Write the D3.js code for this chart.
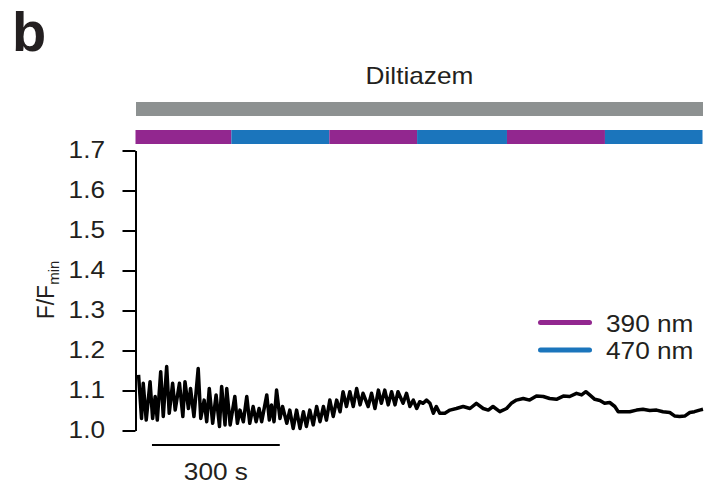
<!DOCTYPE html>
<html>
<head>
<meta charset="utf-8">
<script src="https://cdn.jsdelivr.net/npm/d3@7"></script>
<style>
    body { margin: 0; background: #fff; }
    text { font-family: "Liberation Sans", Arial, sans-serif; fill: #231f20; }
</style>
</head>
<body>
<div id="chart"></div>
<script>
// trace data (time in s, F/Fmin)
var times = [6, 13, 17, 24, 33, 39, 45, 50, 58, 64, 72, 78, 86, 92, 102, 110, 115, 123, 128, 136,
    146, 152, 160, 166, 172, 180, 188, 196, 201, 209, 213, 221, 232, 238, 244, 252, 260, 267, 275, 282,
    289, 295, 307, 313, 318, 324, 330, 338, 344, 354, 361, 369, 377, 385, 393, 400, 408, 416, 424, 432,
    440, 447, 455, 463, 471, 479, 486, 494, 502, 510, 518, 526, 533, 545, 553, 561, 569, 576, 584, 592,
    600, 608, 615,
    627, 635, 643, 651, 659, 666, 674, 682, 690, 698, 705, 713, 725, 737, 752, 768, 784, 799, 815, 827,
    838, 854, 870, 881, 893, 909, 924, 940, 956, 971, 987, 1003, 1018, 1034, 1046, 1056, 1065, 1077, 1089,
    1100, 1112, 1124, 1132, 1143, 1159, 1175, 1190, 1206, 1222, 1237, 1253, 1265, 1276, 1288, 1300, 1311,
    1323, 1331];
var values = [1.139, 1.030, 1.118, 1.026, 1.122, 1.030, 1.085, 1.026, 1.147, 1.035, 1.160, 1.043, 1.118, 1.051,
    1.118, 1.035, 1.122, 1.055, 1.105, 1.035, 1.155, 1.030, 1.076, 1.022, 1.105, 1.018, 1.089, 1.010, 1.110,
    1.014, 1.105, 1.014, 1.085, 1.018, 1.051, 1.022, 1.085, 1.018, 1.060, 1.022, 1.055, 1.022, 1.089, 1.026,
    1.064, 1.022, 1.101, 1.030, 1.060, 1.018, 1.051, 1.005, 1.051, 1.005, 1.047, 1.010, 1.051, 1.014, 1.060,
    1.022, 1.060, 1.026, 1.076, 1.035, 1.076, 1.047, 1.097, 1.060, 1.097, 1.060, 1.105, 1.064, 1.093, 1.060,
    1.093, 1.055, 1.101, 1.068, 1.101, 1.064, 1.097, 1.064, 1.097,
    1.068, 1.093, 1.060, 1.076, 1.055, 1.072, 1.068, 1.076, 1.068, 1.043, 1.060, 1.043, 1.043, 1.051, 1.055,
    1.060, 1.055, 1.068, 1.055, 1.051, 1.060, 1.047, 1.055, 1.068, 1.076, 1.080, 1.076, 1.086, 1.085, 1.080,
    1.078, 1.086, 1.085, 1.093, 1.089, 1.097, 1.089, 1.078, 1.075, 1.068, 1.070, 1.060, 1.047, 1.047, 1.047,
    1.051, 1.053, 1.050, 1.051, 1.047, 1.045, 1.036, 1.035, 1.036, 1.045, 1.047, 1.051, 1.053];

// illumination periods (s) and wavelength
var segStart = [0, 225, 455, 661, 872, 1102];
var segEnd = [225, 455, 661, 872, 1102, 1331];
var segNm = [390, 470, 390, 470, 390, 470];

var legendNm = [390, 470];
var legendColor = ["#92278f", "#1b75bc"];
var yTicks = [1.0, 1.1, 1.2, 1.3, 1.4, 1.5, 1.6, 1.7];
var scaleBar = [37.5, 337.5];

var svgWidth = 723;
var svgHeight = 495;
// the source figure's lettering is a bit wider than Arial
var stretchX = 1.14;

var svg = d3.select("#chart")
    .append("svg")
    .attr("width", svgWidth)
    .attr("height", svgHeight);

var xScale = d3.scaleLinear()
    .domain([0, 1331])
    .range([136, 703]);

var yScale = d3.scaleLinear()
    .domain([1.0, 1.7])
    .range([430.5, 150.5]);

var colorScale = d3.scaleOrdinal()
    .domain(legendNm)
    .range(legendColor);

// place a text at (x, y) stretched horizontally around its anchor
function stretched(sel, x, y) {
    return sel.attr("x", 0).attr("y", 0)
        .attr("transform", `translate(${x}, ${y}) scale(${stretchX}, 1)`);
}

// panel letter
svg.append("text")
    .attr("x", 12)
    .attr("y", 51)
    .style("font-size", "56px")
    .style("font-weight", "bold")
    .text("b");

// drug label + bar
svg.append("text")
    .call(stretched, (xScale(0) + xScale(1331)) / 2, 84)
    .attr("text-anchor", "middle")
    .style("font-size", "23px")
    .text("Diltiazem");

svg.append("rect")
    .attr("x", xScale(0))
    .attr("y", 102)
    .attr("width", xScale(1331) - xScale(0))
    .attr("height", 14)
    .attr("fill", "#8d9191");

// wavelength bars
svg.selectAll(".seg")
    .data(segStart)
    .enter()
    .append("rect")
    .attr("class", "seg")
    .attr("x", (d, i) => xScale(d) - 0.5)
    .attr("y", 130)
    .attr("width", (d, i) => xScale(segEnd[i]) - xScale(d))
    .attr("height", 14)
    .attr("fill", (d, i) => colorScale(segNm[i]));

// y axis
var leftAxis = d3.axisLeft(yScale)
    .tickValues(yTicks)
    .tickFormat(d3.format(".1f"))
    .tickSizeInner(13)
    .tickSizeOuter(0)
    .tickPadding(17);

var yAxis = svg.append("g")
    .attr("transform", "translate(135.5, 0)")
    .call(leftAxis);

yAxis.select(".domain").attr("stroke", "#000").attr("stroke-width", 2);
yAxis.selectAll(".tick line").attr("stroke", "#000").attr("stroke-width", 2);
yAxis.selectAll(".tick text")
    .style("font-family", "'Liberation Sans', Arial, sans-serif")
    .style("font-size", "23px")
    .attr("fill", "#231f20")
    .attr("x", -30.5 / stretchX)
    .attr("transform", `scale(${stretchX}, 1)`);

// y label
var yLabel = svg.append("text")
    .attr("transform", "translate(54, 290) rotate(-90)")
    .attr("text-anchor", "middle")
    .style("font-size", "23px");
yLabel.append("tspan").text("F/F");
yLabel.append("tspan")
    .attr("dy", 5)
    .style("font-size", "15px")
    .text("min");

// trace
var line = d3.line()
    .x((d, i) => xScale(times[i]))
    .y(d => yScale(d));

svg.append("path")
    .datum(values)
    .attr("d", line)
    .attr("fill", "none")
    .attr("stroke", "#000")
    .attr("stroke-width", 3.5)
    .attr("stroke-linejoin", "round");

// legend
var legend = svg.selectAll(".legend")
    .data(legendNm)
    .enter()
    .append("g")
    .attr("class", "legend")
    .attr("transform", (d, i) => `translate(0, ${322.5 + i * 27.5})`);

legend.append("line")
    .attr("x1", 540.5)
    .attr("x2", 589.5)
    .attr("stroke", d => colorScale(d))
    .attr("stroke-width", 5)
    .attr("stroke-linecap", "round");

legend.append("text")
    .call(stretched, 606, 9)
    .style("font-size", "23px")
    .text(d => d + " nm");

// time scale bar
svg.append("line")
    .attr("x1", xScale(scaleBar[0]))
    .attr("x2", xScale(scaleBar[1]))
    .attr("y1", 445)
    .attr("y2", 445)
    .attr("stroke", "#000")
    .attr("stroke-width", 2);

svg.append("text")
    .call(stretched, (xScale(scaleBar[0]) + xScale(scaleBar[1])) / 2, 480)
    .attr("text-anchor", "middle")
    .style("font-size", "23px")
    .text("300 s");
</script>
</body>
</html>
